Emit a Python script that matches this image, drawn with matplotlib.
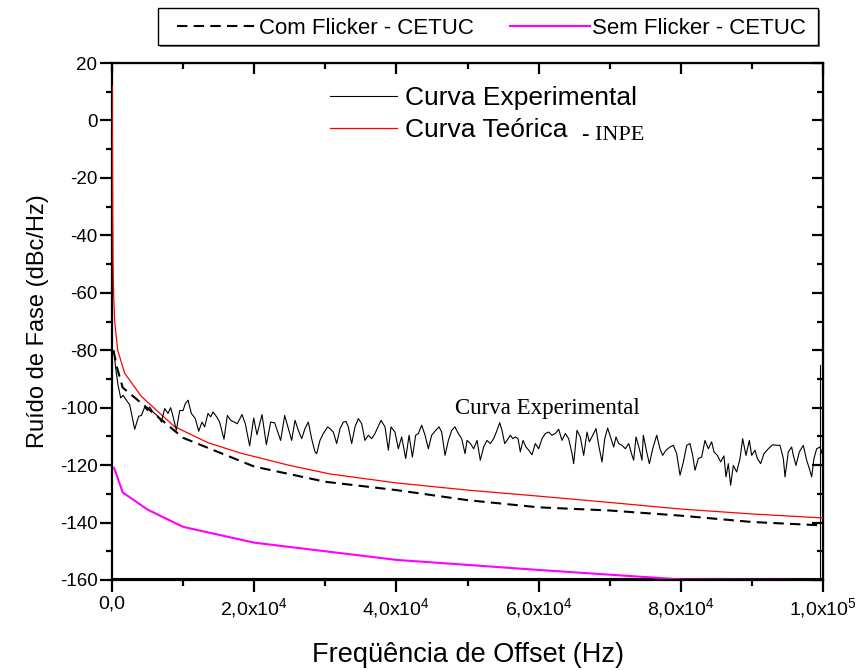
import numpy as np
import matplotlib
matplotlib.use("Agg")
import matplotlib.pyplot as plt
from matplotlib.ticker import MultipleLocator, FixedLocator, FixedFormatter
from matplotlib.patches import Rectangle
from matplotlib import font_manager

# ---------------- data ----------------
# Curva Experimental (INPE) – frequency in kHz, noise in dBc/Hz
exp_f_khz = [0.3, 0.5, 0.84, 1.22, 1.55, 2.02, 2.49, 3.19, 3.75, 4.13, 4.60, 4.97, 5.30, 5.77, 6.47,
             6.94, 7.41, 7.88, 8.25, 8.58, 9.05, 9.52, 9.99, 10.31, 10.69, 11.16, 11.72, 12.19, 12.66,
             13.03, 13.50, 13.88, 14.21, 14.67, 15.14, 15.75, 16.22, 16.69, 17.16, 17.63, 18.28, 18.75,
             19.36, 19.93, 20.39, 21.10, 21.71, 22.32, 22.88, 23.72, 24.29,
             24.80, 25.27, 25.74, 26.21, 26.68, 27.14, 27.61, 28.08, 28.55, 28.79, 29.25, 29.72, 30.33,
             30.66, 31.13, 31.60, 32.07, 32.54, 32.91, 33.24, 33.71, 34.18, 34.65, 35.12, 35.58, 36.05,
             36.52, 36.99, 37.84, 38.40, 38.87, 39.24, 39.80, 40.27, 40.74, 41.31, 41.78, 42.25, 42.71,
             43.09, 43.56, 44.03, 44.49, 44.96, 45.53, 46.00, 46.37, 46.84, 47.31, 47.78, 48.24, 48.71,
             49.18, 49.65,
             49.93, 50.40, 50.87, 51.34, 51.80, 52.27, 52.74, 53.21, 53.68, 54.15, 54.53, 54.85, 55.23,
             55.56, 56.03, 56.36, 56.73, 57.11, 57.43, 57.81, 58.23, 58.61, 59.07, 59.54, 60.01, 60.48,
             60.95, 61.42, 61.88, 62.35, 62.82, 63.29, 63.76, 64.23, 64.70, 64.93, 65.40, 65.87, 66.34,
             66.81, 67.14, 67.61, 68.08, 68.45, 68.92, 69.30, 69.71, 70.18, 70.56, 70.89, 71.26, 71.73,
             72.20, 72.67, 73.14, 73.37, 73.70, 74.17, 74.54,
             74.73, 75.20, 75.58, 76.05, 76.61, 77.07, 77.45, 77.92, 78.48, 78.95, 79.42, 79.89, 80.36,
             80.83, 81.29, 81.67, 82.00, 82.47, 82.93, 83.40, 83.87, 84.34, 84.67, 85.14, 85.61, 86.07,
             86.36, 86.68, 87.01, 87.39, 87.86, 88.33, 88.70, 89.17, 89.64, 89.97, 90.44, 90.76, 91.23,
             91.70, 92.31, 92.92, 93.48, 93.95, 94.42, 94.66, 95.12, 95.59, 95.83, 96.20, 96.67, 97.23,
             97.70, 98.08, 98.41, 98.73, 99.11, 99.58, 99.95]
exp_db = [-80.5, -86.0, -92.0, -96.6, -95.7, -97.4, -99.0, -107.5, -103.0, -102.7, -99.8, -101.0, -99.8,
          -101.5, -103.0, -105.0, -100.3, -102.0, -100.0, -103.0, -107.9, -101.0, -101.0, -98.6, -97.4,
          -102.0, -103.8, -108.2, -105.0, -106.7, -102.0, -103.2, -101.5, -103.0, -105.0, -111.0, -102.7,
          -104.4, -105.0, -105.6, -102.4, -105.6, -113.3, -103.6, -109.4, -102.4, -112.9, -105.0, -105.3,
          -111.4, -102.7,
          -107.3, -111.4, -104.4, -107.9, -110.8, -107.3, -105.0, -110.8, -115.4, -116.0, -111.4, -109.0,
          -106.7, -107.3, -108.5, -112.5, -107.3, -105.0, -104.8, -106.7, -112.5, -106.7, -103.8, -105.6,
          -111.4, -109.6, -110.8, -109.0, -104.4, -106.7, -114.8, -106.7, -108.5, -114.3, -110.2, -117.7,
          -109.6, -117.2, -109.6, -109.0, -106.1, -109.6, -114.3, -109.6, -107.9, -106.7, -108.5, -116.6,
          -111.4, -107.9, -106.7, -109.0, -110.8, -116.0,
          -111.4, -112.5, -114.3, -111.4, -118.3, -113.7, -111.4, -112.5, -110.8, -107.9, -105.2, -107.9,
          -112.5, -111.4, -109.6, -110.8, -110.2, -110.8, -115.4, -111.4, -113.7, -114.8, -116.4, -112.5,
          -114.3, -110.8, -109.0, -108.5, -109.6, -109.0, -107.5, -111.4, -109.0, -110.8, -116.0, -119.5,
          -107.9, -110.2, -116.6, -108.5, -111.9, -109.6, -107.3, -113.1, -118.9, -110.8, -107.1, -110.8,
          -113.7, -110.2, -112.5, -113.1, -114.3, -112.5, -116.6, -118.3, -110.2, -114.3, -118.3,
          -109.6, -115.4, -119.5, -114.3, -109.6, -114.3, -116.6, -114.8, -113.7, -113.1, -116.0, -123.5,
          -118.9, -113.1, -112.5, -116.6, -121.8, -117.7, -117.2, -111.4, -114.3, -111.9, -115.4, -116.6,
          -118.9, -116.8, -124.1, -119.5, -127.0, -120.1, -122.4, -117.7, -110.8, -116.6, -111.4, -116.6,
          -114.8, -117.7, -119.5, -116.0, -114.3, -112.9, -113.1, -113.1, -117.7, -124.1, -115.4, -113.7,
          -116.6, -120.1, -115.4, -113.1, -118.3, -121.2, -124.1, -117.7, -114.3, -113.7, -116.6]

# Curva Teórica (INPE)
teo_f_khz = [0.02, 0.06, 0.10, 0.15, 0.25, 0.375, 0.8, 1.78, 4.1, 6.47, 8.8, 13.5, 18.2, 24.8, 30.7,
             40.0, 50.0, 60.0, 70.0, 80.0, 90.0, 100.0]
teo_db = [12.0, -10.0, -30.0, -50.0, -62.0, -70.0, -80.0, -88.0, -96.0, -101.4, -106.6, -112.2, -115.9,
          -120.0, -123.1, -126.2, -128.7, -130.8, -133.0, -135.3, -137.0, -138.4]

# Com Flicker - CETUC
com_f_khz = [0.2, 0.7, 1.5, 10.0, 20.0, 30.0, 40.0, 50.0, 60.0, 70.0, 80.0, 90.0, 100.0]
com_db = [-80.0, -86.0, -93.0, -110.5, -120.5, -125.8, -128.7, -132.2, -134.7, -135.8, -137.6, -139.8, -141.0]

# Sem Flicker - CETUC
sem_f_khz = [0.3, 1.5, 5.0, 10.0, 20.0, 40.0, 60.0, 80.0, 100.0]
sem_db = [-121.0, -129.5, -135.5, -141.5, -147.0, -153.0, -156.5, -159.8, -160.0]

floor_db = -159.4          # thin line along the bottom of the plot
edge_f_khz = 99.6          # extra vertical trace near the right border
edge_db = [-160.0, -85.0]

x_ticks = [0, 20000, 40000, 60000, 80000, 100000]
x_tick_labels = ['0,0', r'2,0x10$^{4}$', r'4,0x10$^{4}$', r'6,0x10$^{4}$', r'8,0x10$^{4}$', r'1,0x10$^{5}$']
y_ticks = [20, 0, -20, -40, -60, -80, -100, -120, -140, -160]

# ---------------- fonts ----------------
names = {f.name for f in font_manager.fontManager.ttflist}
narrow = 'Liberation Sans Narrow' if 'Liberation Sans Narrow' in names else 'Liberation Sans'
plt.rcParams['font.family'] = ['Liberation Sans', 'DejaVu Sans']
plt.rcParams['axes.unicode_minus'] = False
plt.rcParams['mathtext.fontset'] = 'custom'
plt.rcParams['mathtext.rm'] = narrow
plt.rcParams['mathtext.it'] = narrow
plt.rcParams['mathtext.bf'] = narrow
plt.rcParams['mathtext.default'] = 'regular'
SERIF = ['Liberation Serif', 'DejaVu Serif']

W, H = 863, 671
fig = plt.figure(figsize=(W / 100, H / 100), dpi=100)
ax = fig.add_axes([112 / W, 1 - 580 / H, (823 - 112) / W, (580 - 63) / H])

khz = lambda v: np.asarray(v) * 1000.0

ax.axhline(floor_db, color='black', lw=0.8, zorder=1)
ax.plot(khz([edge_f_khz, edge_f_khz]), edge_db, color='black', lw=0.8, zorder=1)
l_sem, = ax.plot(khz(sem_f_khz), sem_db, color='#ff00ff', lw=1.5, zorder=2)
l_com, = ax.plot(khz(com_f_khz), com_db, color='black', lw=1.5, ls=(0, (5, 3)), zorder=3)
l_teo, = ax.plot(khz(teo_f_khz), teo_db, color='#ff0000', lw=0.9, zorder=4)
l_exp, = ax.plot(khz(exp_f_khz), exp_db, color='black', lw=0.8, zorder=5)

ax.set_xlim(0, 100000)
ax.set_ylim(-160, 20)

for s in ax.spines.values():
    s.set_linewidth(1.6)

ax.xaxis.set_major_locator(FixedLocator(x_ticks))
ax.xaxis.set_major_formatter(FixedFormatter(x_tick_labels))
ax.xaxis.set_minor_locator(MultipleLocator(10000))
ax.yaxis.set_major_locator(FixedLocator(y_ticks))
ax.yaxis.set_minor_locator(MultipleLocator(10))
ax.tick_params(which='major', direction='out', length=8.5, width=1.6)
ax.tick_params(which='minor', direction='out', length=4.5, width=1.6)
ax.tick_params(axis='y', labelsize=13.5, pad=2)
ax.tick_params(axis='x', labelsize=14, pad=3)
for lab in ax.get_xticklabels():
    lab.set_family(narrow)

top = ax.secondary_xaxis('top')
top.xaxis.set_major_locator(FixedLocator(x_ticks))
top.xaxis.set_minor_locator(MultipleLocator(10000))
top.tick_params(which='major', direction='in', length=8, width=1.6, labeltop=False)
top.tick_params(which='minor', direction='in', length=4.5, width=1.6)
right = ax.secondary_yaxis('right')
right.yaxis.set_major_locator(FixedLocator(y_ticks))
right.yaxis.set_minor_locator(MultipleLocator(10))
right.tick_params(which='major', direction='in', length=8, width=1.6, labelright=False)
right.tick_params(which='minor', direction='in', length=4.5, width=1.6)

ax.set_ylabel('Ruído de Fase (dBc/Hz)', fontsize=17, labelpad=8)
ax.set_xlabel('Freqüência de Offset (Hz)', fontsize=19.5, family=narrow, labelpad=16)

# inner legend
leg = ax.legend([l_exp, l_teo], ['Curva Experimental', 'Curva Teórica'],
                loc='upper left', bbox_to_anchor=(330 / W, 1 - 86 / H),
                bbox_transform=fig.transFigure, frameon=False, fontsize=19,
                handlelength=2.55, handletextpad=0.3, borderpad=0, borderaxespad=0,
                labelspacing=0.32)
fig.text(582 / W, 1 - 135 / H, '- INPE', family=SERIF, fontsize=16, ha='left', va='center')

ax.text(61200, -100.2, 'Curva Experimental', family=SERIF, fontsize=16.5, ha='center', va='center')

# top legend outside the axes (box drawn separately, with a small shadow)
fig.patches.append(Rectangle((160 / W, 1 - 47 / H), 660 / W, 37 / H, transform=fig.transFigure,
                             facecolor='0.45', edgecolor='none', zorder=0))
fig.patches.append(Rectangle((158 / W, 1 - 45 / H), 660 / W, 37 / H, transform=fig.transFigure,
                             facecolor='white', edgecolor='black', lw=1.0, zorder=0.5))
fleg = fig.legend([l_com, l_sem], ['Com Flicker - CETUC', 'Sem Flicker - CETUC'],
                  loc='center left', bbox_to_anchor=(177 / W, 1 - 28 / H), ncol=2,
                  fontsize=16, handlelength=3.6, handletextpad=0.1, columnspacing=1.6,
                  borderpad=0, borderaxespad=0, frameon=False)

fig.savefig('out.png', dpi=100)
